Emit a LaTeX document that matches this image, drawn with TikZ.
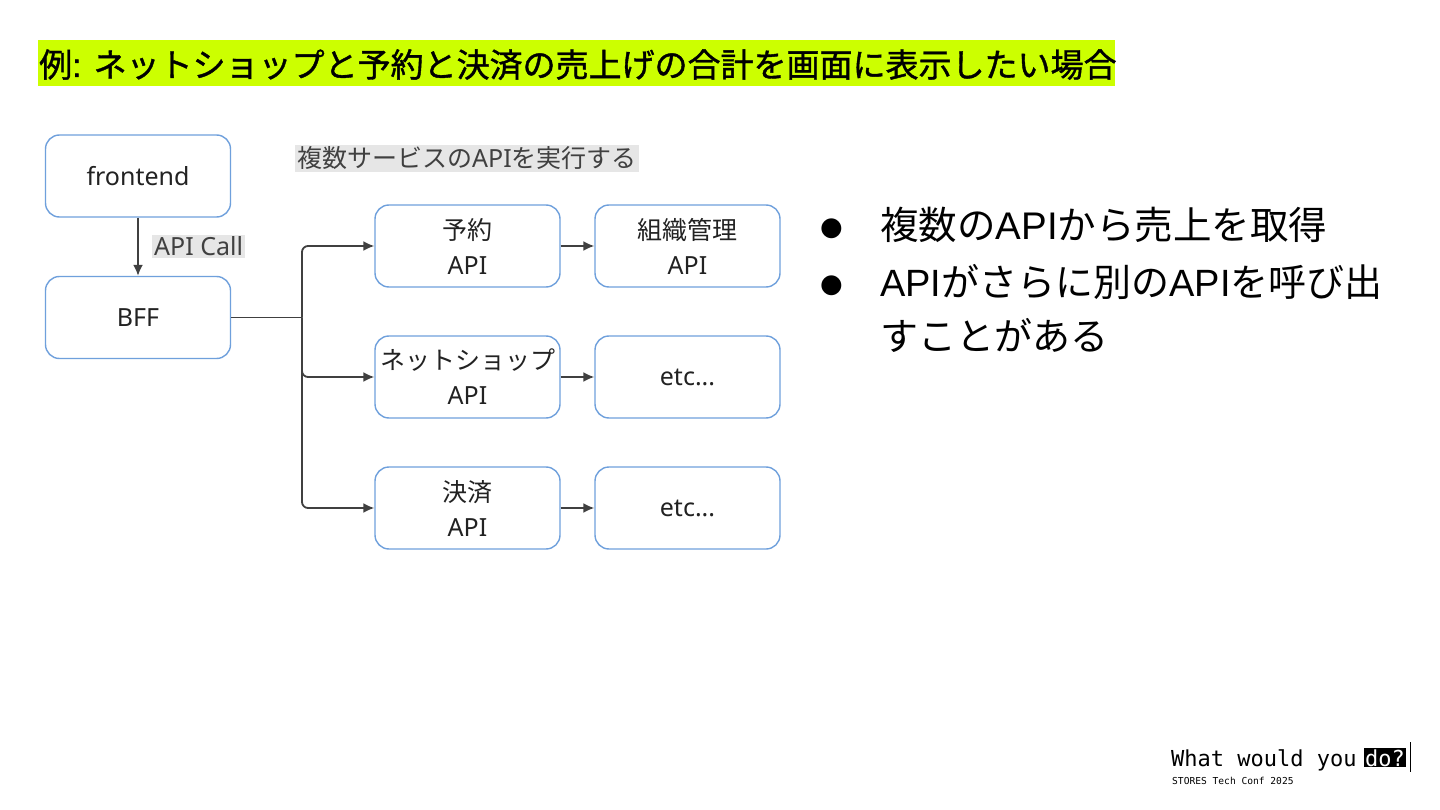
\documentclass[tikz,border=0pt]{standalone}
\usepackage{fontspec}
\setmainfont{Noto Sans}
\newfontfamily\cjk{Noto Sans CJK JP}
\newfontfamily\cjkb[FakeBold=1.2]{Noto Sans CJK JP}
\newfontfamily\arl{Liberation Sans}
\newfontfamily\arlb[FakeBold=1.2]{Liberation Sans}
\newfontfamily\monof{DejaVu Sans Mono}
\newfontfamily\dejav{DejaVu Sans}
\usetikzlibrary{arrows.meta}
\definecolor{hl}{RGB}{204,255,0}
\definecolor{boxline}{RGB}{111,160,220}
\definecolor{conn}{RGB}{64,64,64}
\definecolor{lblbg}{RGB}{230,230,230}
\definecolor{txt}{RGB}{34,34,34}
\tikzset{
  apibox/.style={draw=boxline, line width=1.4pt, rounded corners=14pt, minimum width=185pt, minimum height=82pt, align=center, text=txt, font=\fontsize{25}{35}\selectfont, inner sep=0pt},
  conline/.style={draw=conn, line width=1.8pt, -{Latex[length=11pt,width=10pt]}},
  graylbl/.style={fill=lblbg, text=black!75, font=\fontsize{25}{29}\selectfont, inner sep=2pt},
}
\begin{document}
\begin{tikzpicture}[x=1pt,y=-1pt]
\useasboundingbox (0,0) rectangle (1440,810);
\fill[white] (0,0) rectangle (1440,810);
% title
\fill[hl] (38,40) rectangle (1115,86);
\node[anchor=base west, inner sep=0pt, font=\fontsize{33}{36}\selectfont] (title) at (39,77) {\cjkb 例\arlb: \cjkb ネットショップと予約と決済の売上げの合計を画面に表示したい場合};
% boxes
\node[apibox] (fe) at (138,176) {frontend};
\node[apibox] (bff) at (138,317.5) {BFF};
\node[apibox] (yoyaku) at (467.5,246) {{\cjk 予約}\\API};
\node[apibox] (soshiki) at (687.5,246) {{\cjk 組織管理}\\API};
\node[apibox] (net) at (467.5,377) {{\cjk ネットショップ}\\API};
\node[apibox] (etc1) at (687.5,377) {etc...};
\node[apibox] (kessai) at (467.5,508) {{\cjk 決済}\\API};
\node[apibox] (etc2) at (687.5,508) {etc...};
% labels
\node[graylbl, anchor=west] (callLbl) at (152,246.5) {API Call};
\node[graylbl, anchor=west] (multiLbl) at (295,158.5) {{\cjk 複数サービスの}API{\cjk を実行する}};
% connectors
\draw[conline] (fe.south) -- (bff.north);
\coordinate (fork) at (302,317.5);
\draw[draw=conn, line width=1.8pt] (bff.east) -- (fork);
\draw[conline, rounded corners=6pt] (fork) |- (yoyaku.west);
\draw[conline, rounded corners=6pt] (fork) |- (net.west);
\draw[conline, rounded corners=6pt] (fork) |- (kessai.west);
\draw[conline] (yoyaku.east) -- (soshiki.west);
\draw[conline] (net.east) -- (etc1.west);
\draw[conline] (kessai.east) -- (etc2.west);
% bullets
\node[anchor=base west, inner sep=0pt, font=\fontsize{26}{30}\selectfont] (b1) at (820,236) {\dejav ●};
\node[anchor=base west, inner sep=0pt, font=\fontsize{26}{30}\selectfont] (b2) at (820,293) {\dejav ●};
\node[anchor=base west, inner sep=0pt, font=\fontsize{38.5}{44}\selectfont] (t1) at (880,240) {\cjk 複数の\arl API\cjk から売上を取得};
\node[anchor=base west, inner sep=0pt, font=\fontsize{38}{44}\selectfont] (t2) at (880,297) {\arl API\cjk がさらに別の\arl API\cjk を呼び出};
\node[anchor=base west, inner sep=0pt, font=\fontsize{38}{44}\selectfont] (t3) at (880,350) {\cjk すことがある};
% footer
\node[anchor=base west, inner sep=0pt, font=\monof\fontsize{22}{26}\selectfont] (what) at (1171,766) {What would you};
\node[anchor=base west, inner sep=1pt, fill=black, text=white, font=\monof\fontsize{22}{26}\selectfont] (do) at (1364,766) {do?};
\draw[line width=1pt] (1410,742) -- (1410,772);
\node[anchor=base west, inner sep=0pt, font=\monof\fontsize{9.6}{12}\selectfont] (conf) at (1172,784) {STORES Tech Conf 2025};
\end{tikzpicture}
\end{document}
